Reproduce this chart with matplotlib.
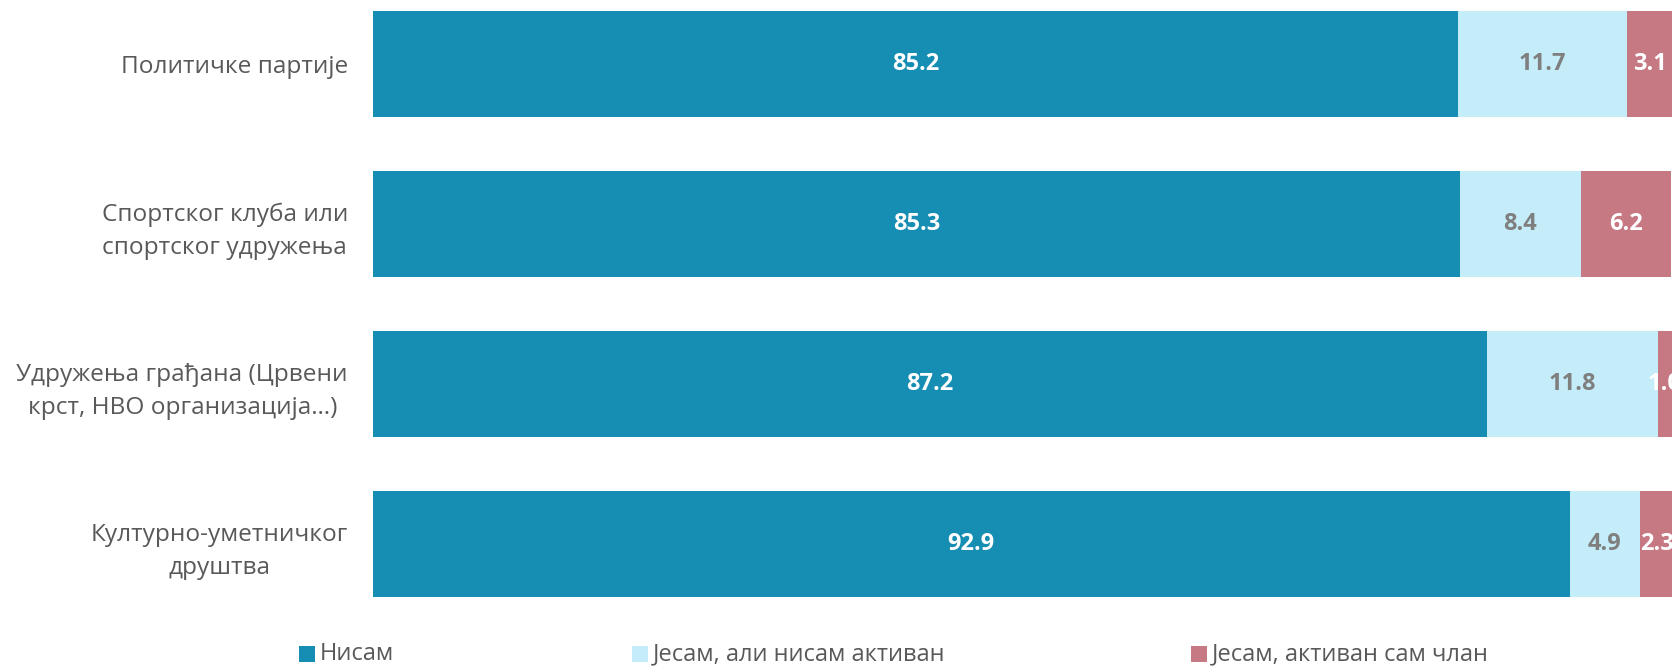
import matplotlib
matplotlib.use("Agg")
import matplotlib.pyplot as plt
from matplotlib.patches import Rectangle

categories = [
    "Политичке партије",
    "Спортског клуба или\nспортског удружења",
    "Удружења грађана (Црвени\nкрст, НВО организација…)",
    "Културно-уметничког\nдруштва",
]
series_names = ["Нисам", "Јесам, али нисам активан", "Јесам, активан сам члан"]
nisam = [85.2, 85.3, 87.2, 92.9]
jesam_neaktivan = [11.7, 8.4, 11.8, 4.9]
jesam_aktivan = [3.1, 6.2, 1.0, 2.3]

colors = ["#168DB2", "#C4ECF9", "#C67883"]
label_colors = ["white", "#7F7F7F", "white"]

plt.rcParams["font.family"] = ["Open Sans", "DejaVu Sans"]

fig = plt.figure(figsize=(16.72, 6.67), dpi=100)
ax = fig.add_axes([373 / 1672, 1 - 608 / 667, 1 - 373 / 1672, 608 / 667])

XMIN, XMAX = 10, 100
ypos = list(range(len(categories)))
left = [0.0] * len(categories)
for vals, col, lcol in zip([nisam, jesam_neaktivan, jesam_aktivan], colors, label_colors):
    ax.barh(ypos, vals, left=left, height=0.667, color=col, edgecolor="none")
    for i, v in enumerate(vals):
        l = max(left[i], XMIN)
        r = left[i] + v
        ax.text((l + r) / 2, ypos[i], f"{v:.1f}", ha="center", va="center",
                color=lcol, fontsize=17, fontweight="bold", clip_on=False)
    left = [a + b for a, b in zip(left, vals)]

ax.set_xlim(XMIN, XMAX)
ax.set_ylim(3.4, -0.4)
ax.set_yticks(ypos)
ax.set_yticklabels(categories, fontsize=17.6, color="#595959", multialignment="center",
                   linespacing=1.5)
ax.tick_params(axis="y", length=0, pad=18)
ax.set_xticks([])
for s in ax.spines.values():
    s.set_visible(False)

# legend
leg_x = [299, 632, 1191]
ly = 654
for x, name, col in zip(leg_x, series_names, colors):
    fig.patches.append(Rectangle((x / 1672, 1 - (ly + 8) / 667), 16 / 1672, 16 / 667,
                                 transform=fig.transFigure, facecolor=col, edgecolor="none"))
    fig.text((x + 21) / 1672, 1 - ly / 667, name, ha="left", va="center",
             fontsize=17, color="#595959")

fig.savefig("out.png", dpi=100)
